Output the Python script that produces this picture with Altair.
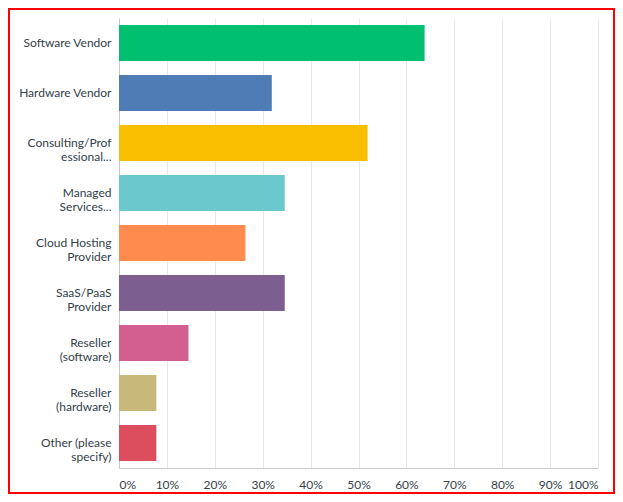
import altair as alt
import pandas as pd

categories = [
    "Software Vendor",
    "Hardware Vendor",
    "Consulting/Prof|essional...",
    "Managed|Services...",
    "Cloud Hosting|Provider",
    "SaaS/PaaS|Provider",
    "Reseller|(software)",
    "Reseller|(hardware)",
    "Other (please|specify)",
]
values = [63.8, 31.9, 51.9, 34.6, 26.4, 34.6, 14.5, 7.8, 7.8]
colors = ["#00BF6F", "#507CB6", "#F9BE00", "#6BC8CD", "#FF8B4F",
          "#7D5E90", "#D25F90", "#C8B87A", "#DC4E5E"]
x_ticks = [0, 10, 20, 30, 40, 50, 60, 70, 80, 90, 100]

df = pd.DataFrame({"category": categories, "value": values, "color": colors})

FONT = "Lato"
TXT = "#333E48"

bars = alt.Chart(df).mark_bar().encode(
    y=alt.Y(
        "category:N",
        sort=categories,
        scale=alt.Scale(paddingInner=0.28, paddingOuter=0.14),
        axis=alt.Axis(
            title=None,
            ticks=False,
            tickSize=0,
            domain=True,
            domainColor="#C8C8C8",
            labelPadding=8,
            labelFont=FONT,
            labelFontSize=12,
            labelColor=TXT,
            labelLineHeight=14,
            labelLimit=200,
            labelExpr="split(datum.label, '|')",
        ),
    ),
    x=alt.X(
        "value:Q",
        scale=alt.Scale(domain=[0, 100], nice=False),
        axis=alt.Axis(
            title=None,
            values=x_ticks,
            ticks=False,
            tickSize=0,
            domainColor="#C8C8C8",
            gridColor="#E8E8E8",
            labelPadding=11,
            labelFlush=True,
            labelFont=FONT,
            labelFontSize=12,
            labelColor=TXT,
            labelExpr="datum.value + '%'",
        ),
    ),
    color=alt.Color("color:N", scale=None),
)

border = alt.Chart(pd.DataFrame({"a": [0]})).mark_rect(
    fill=None, stroke="#FF0000", strokeWidth=2, clip=False
).encode(
    x=alt.value(-110),
    x2=alt.value(495),
    y=alt.value(-9),
    y2=alt.value(475),
)

chart = alt.layer(bars, border).properties(
    width=479,
    height=450,
    padding={"left": 111, "top": 10, "right": 17, "bottom": 26},
    autosize=alt.AutoSizeParams(type="none"),
).configure_view(stroke=None).configure_axisY(grid=False)

chart.save("out.html", embed_options={"renderer": "svg", "actions": False})
